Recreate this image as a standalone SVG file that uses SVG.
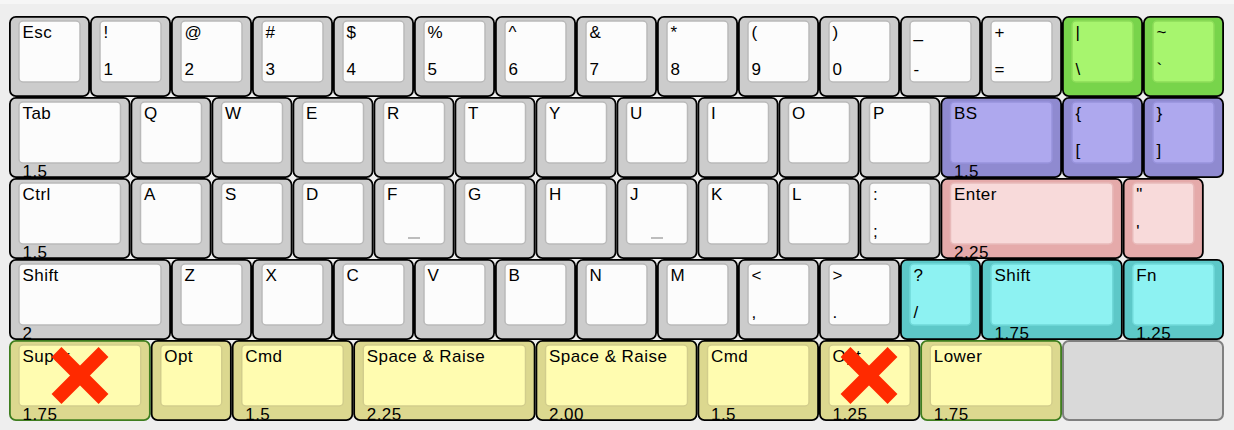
<svg xmlns="http://www.w3.org/2000/svg" width="1234" height="430" viewBox="0 0 1234 430">
<style>
.o{stroke:#000;stroke-width:1.8}
.i{stroke-width:1.5}
.d .o{fill:#cccccc}.d .i{fill:#fcfcfc;stroke:#b9b9b9}
.g .o{fill:#78d44b}.g .i{fill:#a7f56e;stroke:#8ddc5a}
.p .o{fill:#8f8ad0}.p .i{fill:#aea8ee;stroke:#9893dc}
.k .o{fill:#e5aaaa}.k .i{fill:#f8dada;stroke:#e8baba}
.c .o{fill:#5dc8c8}.c .i{fill:#8df2f2;stroke:#70d9d9}
.y .o{fill:#dcd88f}.y .i{fill:#fffcb0;stroke:#d2cd8c}
.gb .o{stroke:#3e7d1f}
text{font-family:"Liberation Sans",Arial,Helvetica,sans-serif;font-size:17px;letter-spacing:0.45px;fill:#000}
.nub{stroke:#a8a8a8;stroke-width:1.5}
.x{stroke:#ff2a00;stroke-width:14}
</style>
<rect x="0" y="0" width="1234" height="430" fill="#eeeeee"/>
<rect x="0" y="0" width="1234" height="4" fill="#f6f6f6"/>
<g id="connectors"/>

<!-- Row 0 -->
<g id="k-esc" class="d" transform="translate(9,16)"><rect class="o" x="0.9" y="0.9" width="79.2" height="79.2" rx="6"/><rect class="i" x="10" y="5" width="61" height="61" rx="4"/><text x="13.5" y="22">Esc</text></g>
<g id="k-1" class="d" transform="translate(90,16)"><rect class="o" x="0.9" y="0.9" width="79.2" height="79.2" rx="6"/><rect class="i" x="10" y="5" width="61" height="61" rx="4"/><text x="13.5" y="22">!</text><text x="13.5" y="59">1</text></g>
<g id="k-2" class="d" transform="translate(171,16)"><rect class="o" x="0.9" y="0.9" width="79.2" height="79.2" rx="6"/><rect class="i" x="10" y="5" width="61" height="61" rx="4"/><text x="13.5" y="22">@</text><text x="13.5" y="59">2</text></g>
<g id="k-3" class="d" transform="translate(252,16)"><rect class="o" x="0.9" y="0.9" width="79.2" height="79.2" rx="6"/><rect class="i" x="10" y="5" width="61" height="61" rx="4"/><text x="13.5" y="22">#</text><text x="13.5" y="59">3</text></g>
<g id="k-4" class="d" transform="translate(333,16)"><rect class="o" x="0.9" y="0.9" width="79.2" height="79.2" rx="6"/><rect class="i" x="10" y="5" width="61" height="61" rx="4"/><text x="13.5" y="22">$</text><text x="13.5" y="59">4</text></g>
<g id="k-5" class="d" transform="translate(414,16)"><rect class="o" x="0.9" y="0.9" width="79.2" height="79.2" rx="6"/><rect class="i" x="10" y="5" width="61" height="61" rx="4"/><text x="13.5" y="22">%</text><text x="13.5" y="59">5</text></g>
<g id="k-6" class="d" transform="translate(495,16)"><rect class="o" x="0.9" y="0.9" width="79.2" height="79.2" rx="6"/><rect class="i" x="10" y="5" width="61" height="61" rx="4"/><text x="13.5" y="22">^</text><text x="13.5" y="59">6</text></g>
<g id="k-7" class="d" transform="translate(576,16)"><rect class="o" x="0.9" y="0.9" width="79.2" height="79.2" rx="6"/><rect class="i" x="10" y="5" width="61" height="61" rx="4"/><text x="13.5" y="22">&amp;</text><text x="13.5" y="59">7</text></g>
<g id="k-8" class="d" transform="translate(657,16)"><rect class="o" x="0.9" y="0.9" width="79.2" height="79.2" rx="6"/><rect class="i" x="10" y="5" width="61" height="61" rx="4"/><text x="13.5" y="22">*</text><text x="13.5" y="59">8</text></g>
<g id="k-9" class="d" transform="translate(738,16)"><rect class="o" x="0.9" y="0.9" width="79.2" height="79.2" rx="6"/><rect class="i" x="10" y="5" width="61" height="61" rx="4"/><text x="13.5" y="22">(</text><text x="13.5" y="59">9</text></g>
<g id="k-0" class="d" transform="translate(819,16)"><rect class="o" x="0.9" y="0.9" width="79.2" height="79.2" rx="6"/><rect class="i" x="10" y="5" width="61" height="61" rx="4"/><text x="13.5" y="22">)</text><text x="13.5" y="59">0</text></g>
<g id="k-minus" class="d" transform="translate(900,16)"><rect class="o" x="0.9" y="0.9" width="79.2" height="79.2" rx="6"/><rect class="i" x="10" y="5" width="61" height="61" rx="4"/><text x="13.5" y="22">_</text><text x="13.5" y="59">-</text></g>
<g id="k-equal" class="d" transform="translate(981,16)"><rect class="o" x="0.9" y="0.9" width="79.2" height="79.2" rx="6"/><rect class="i" x="10" y="5" width="61" height="61" rx="4"/><text x="13.5" y="22">+</text><text x="13.5" y="59">=</text></g>
<g id="k-backslash" class="g" transform="translate(1062,16)"><rect class="o" x="0.9" y="0.9" width="79.2" height="79.2" rx="6"/><rect class="i" x="10" y="5" width="61" height="61" rx="4"/><text x="13.5" y="22">|</text><text x="13.5" y="59">\</text></g>
<g id="k-grave" class="g" transform="translate(1143,16)"><rect class="o" x="0.9" y="0.9" width="79.2" height="79.2" rx="6"/><rect class="i" x="10" y="5" width="61" height="61" rx="4"/><text x="13.5" y="22">~</text><text x="13.5" y="59">`</text></g>

<!-- Row 1 -->
<g id="k-tab" class="d" transform="translate(9,97)"><rect class="o" x="0.9" y="0.9" width="119.7" height="79.2" rx="6"/><rect class="i" x="10" y="5" width="101.5" height="61" rx="4"/><text x="13.5" y="22">Tab</text><text x="13.5" y="79.5">1.5</text></g>
<g id="k-q" class="d" transform="translate(130.5,97)"><rect class="o" x="0.9" y="0.9" width="79.2" height="79.2" rx="6"/><rect class="i" x="10" y="5" width="61" height="61" rx="4"/><text x="13.5" y="22">Q</text></g>
<g id="k-w" class="d" transform="translate(211.5,97)"><rect class="o" x="0.9" y="0.9" width="79.2" height="79.2" rx="6"/><rect class="i" x="10" y="5" width="61" height="61" rx="4"/><text x="13.5" y="22">W</text></g>
<g id="k-e" class="d" transform="translate(292.5,97)"><rect class="o" x="0.9" y="0.9" width="79.2" height="79.2" rx="6"/><rect class="i" x="10" y="5" width="61" height="61" rx="4"/><text x="13.5" y="22">E</text></g>
<g id="k-r" class="d" transform="translate(373.5,97)"><rect class="o" x="0.9" y="0.9" width="79.2" height="79.2" rx="6"/><rect class="i" x="10" y="5" width="61" height="61" rx="4"/><text x="13.5" y="22">R</text></g>
<g id="k-t" class="d" transform="translate(454.5,97)"><rect class="o" x="0.9" y="0.9" width="79.2" height="79.2" rx="6"/><rect class="i" x="10" y="5" width="61" height="61" rx="4"/><text x="13.5" y="22">T</text></g>
<g id="k-y" class="d" transform="translate(535.5,97)"><rect class="o" x="0.9" y="0.9" width="79.2" height="79.2" rx="6"/><rect class="i" x="10" y="5" width="61" height="61" rx="4"/><text x="13.5" y="22">Y</text></g>
<g id="k-u" class="d" transform="translate(616.5,97)"><rect class="o" x="0.9" y="0.9" width="79.2" height="79.2" rx="6"/><rect class="i" x="10" y="5" width="61" height="61" rx="4"/><text x="13.5" y="22">U</text></g>
<g id="k-i" class="d" transform="translate(697.5,97)"><rect class="o" x="0.9" y="0.9" width="79.2" height="79.2" rx="6"/><rect class="i" x="10" y="5" width="61" height="61" rx="4"/><text x="13.5" y="22">I</text></g>
<g id="k-o" class="d" transform="translate(778.5,97)"><rect class="o" x="0.9" y="0.9" width="79.2" height="79.2" rx="6"/><rect class="i" x="10" y="5" width="61" height="61" rx="4"/><text x="13.5" y="22">O</text></g>
<g id="k-p" class="d" transform="translate(859.5,97)"><rect class="o" x="0.9" y="0.9" width="79.2" height="79.2" rx="6"/><rect class="i" x="10" y="5" width="61" height="61" rx="4"/><text x="13.5" y="22">P</text></g>
<g id="k-bs" class="p" transform="translate(940.5,97)"><rect class="o" x="0.9" y="0.9" width="119.7" height="79.2" rx="6"/><rect class="i" x="10" y="5" width="101.5" height="61" rx="4"/><text x="13.5" y="22">BS</text><text x="13.5" y="79.5">1.5</text></g>
<g id="k-lbracket" class="p" transform="translate(1062,97)"><rect class="o" x="0.9" y="0.9" width="79.2" height="79.2" rx="6"/><rect class="i" x="10" y="5" width="61" height="61" rx="4"/><text x="13.5" y="22">{</text><text x="13.5" y="59">[</text></g>
<g id="k-rbracket" class="p" transform="translate(1143,97)"><rect class="o" x="0.9" y="0.9" width="79.2" height="79.2" rx="6"/><rect class="i" x="10" y="5" width="61" height="61" rx="4"/><text x="13.5" y="22">}</text><text x="13.5" y="59">]</text></g>

<!-- Row 2 -->
<g id="k-ctrl" class="d" transform="translate(9,178)"><rect class="o" x="0.9" y="0.9" width="119.7" height="79.2" rx="6"/><rect class="i" x="10" y="5" width="101.5" height="61" rx="4"/><text x="13.5" y="22">Ctrl</text><text x="13.5" y="79.5">1.5</text></g>
<g id="k-a" class="d" transform="translate(130.5,178)"><rect class="o" x="0.9" y="0.9" width="79.2" height="79.2" rx="6"/><rect class="i" x="10" y="5" width="61" height="61" rx="4"/><text x="13.5" y="22">A</text></g>
<g id="k-s" class="d" transform="translate(211.5,178)"><rect class="o" x="0.9" y="0.9" width="79.2" height="79.2" rx="6"/><rect class="i" x="10" y="5" width="61" height="61" rx="4"/><text x="13.5" y="22">S</text></g>
<g id="k-d" class="d" transform="translate(292.5,178)"><rect class="o" x="0.9" y="0.9" width="79.2" height="79.2" rx="6"/><rect class="i" x="10" y="5" width="61" height="61" rx="4"/><text x="13.5" y="22">D</text></g>
<g id="k-f" class="d" transform="translate(373.5,178)"><rect class="o" x="0.9" y="0.9" width="79.2" height="79.2" rx="6"/><rect class="i" x="10" y="5" width="61" height="61" rx="4"/><text x="13.5" y="22">F</text><line class="nub" x1="34.5" y1="60" x2="46.5" y2="60"/></g>
<g id="k-g" class="d" transform="translate(454.5,178)"><rect class="o" x="0.9" y="0.9" width="79.2" height="79.2" rx="6"/><rect class="i" x="10" y="5" width="61" height="61" rx="4"/><text x="13.5" y="22">G</text></g>
<g id="k-h" class="d" transform="translate(535.5,178)"><rect class="o" x="0.9" y="0.9" width="79.2" height="79.2" rx="6"/><rect class="i" x="10" y="5" width="61" height="61" rx="4"/><text x="13.5" y="22">H</text></g>
<g id="k-j" class="d" transform="translate(616.5,178)"><rect class="o" x="0.9" y="0.9" width="79.2" height="79.2" rx="6"/><rect class="i" x="10" y="5" width="61" height="61" rx="4"/><text x="13.5" y="22">J</text><line class="nub" x1="34.5" y1="60" x2="46.5" y2="60"/></g>
<g id="k-k" class="d" transform="translate(697.5,178)"><rect class="o" x="0.9" y="0.9" width="79.2" height="79.2" rx="6"/><rect class="i" x="10" y="5" width="61" height="61" rx="4"/><text x="13.5" y="22">K</text></g>
<g id="k-l" class="d" transform="translate(778.5,178)"><rect class="o" x="0.9" y="0.9" width="79.2" height="79.2" rx="6"/><rect class="i" x="10" y="5" width="61" height="61" rx="4"/><text x="13.5" y="22">L</text></g>
<g id="k-semicolon" class="d" transform="translate(859.5,178)"><rect class="o" x="0.9" y="0.9" width="79.2" height="79.2" rx="6"/><rect class="i" x="10" y="5" width="61" height="61" rx="4"/><text x="13.5" y="22">:</text><text x="13.5" y="59">;</text></g>
<g id="k-enter" class="k" transform="translate(940.5,178)"><rect class="o" x="0.9" y="0.9" width="180.45" height="79.2" rx="6"/><rect class="i" x="10" y="5" width="162.25" height="61" rx="4"/><text x="13.5" y="22">Enter</text><text x="13.5" y="79.5">2.25</text></g>
<g id="k-quote" class="k" transform="translate(1122.75,178)"><rect class="o" x="0.9" y="0.9" width="79.2" height="79.2" rx="6"/><rect class="i" x="10" y="5" width="61" height="61" rx="4"/><text x="13.5" y="22">"</text><text x="13.5" y="59">'</text></g>

<!-- Row 3 -->
<g id="k-lshift" class="d" transform="translate(9,259)"><rect class="o" x="0.9" y="0.9" width="160.2" height="79.2" rx="6"/><rect class="i" x="10" y="5" width="142" height="61" rx="4"/><text x="13.5" y="22">Shift</text><text x="13.5" y="79.5">2</text></g>
<g id="k-z" class="d" transform="translate(171,259)"><rect class="o" x="0.9" y="0.9" width="79.2" height="79.2" rx="6"/><rect class="i" x="10" y="5" width="61" height="61" rx="4"/><text x="13.5" y="22">Z</text></g>
<g id="k-x" class="d" transform="translate(252,259)"><rect class="o" x="0.9" y="0.9" width="79.2" height="79.2" rx="6"/><rect class="i" x="10" y="5" width="61" height="61" rx="4"/><text x="13.5" y="22">X</text></g>
<g id="k-c" class="d" transform="translate(333,259)"><rect class="o" x="0.9" y="0.9" width="79.2" height="79.2" rx="6"/><rect class="i" x="10" y="5" width="61" height="61" rx="4"/><text x="13.5" y="22">C</text></g>
<g id="k-v" class="d" transform="translate(414,259)"><rect class="o" x="0.9" y="0.9" width="79.2" height="79.2" rx="6"/><rect class="i" x="10" y="5" width="61" height="61" rx="4"/><text x="13.5" y="22">V</text></g>
<g id="k-b" class="d" transform="translate(495,259)"><rect class="o" x="0.9" y="0.9" width="79.2" height="79.2" rx="6"/><rect class="i" x="10" y="5" width="61" height="61" rx="4"/><text x="13.5" y="22">B</text></g>
<g id="k-n" class="d" transform="translate(576,259)"><rect class="o" x="0.9" y="0.9" width="79.2" height="79.2" rx="6"/><rect class="i" x="10" y="5" width="61" height="61" rx="4"/><text x="13.5" y="22">N</text></g>
<g id="k-m" class="d" transform="translate(657,259)"><rect class="o" x="0.9" y="0.9" width="79.2" height="79.2" rx="6"/><rect class="i" x="10" y="5" width="61" height="61" rx="4"/><text x="13.5" y="22">M</text></g>
<g id="k-comma" class="d" transform="translate(738,259)"><rect class="o" x="0.9" y="0.9" width="79.2" height="79.2" rx="6"/><rect class="i" x="10" y="5" width="61" height="61" rx="4"/><text x="13.5" y="22">&lt;</text><text x="13.5" y="59">,</text></g>
<g id="k-period" class="d" transform="translate(819,259)"><rect class="o" x="0.9" y="0.9" width="79.2" height="79.2" rx="6"/><rect class="i" x="10" y="5" width="61" height="61" rx="4"/><text x="13.5" y="22">&gt;</text><text x="13.5" y="59">.</text></g>
<g id="k-slash" class="c" transform="translate(900,259)"><rect class="o" x="0.9" y="0.9" width="79.2" height="79.2" rx="6"/><rect class="i" x="10" y="5" width="61" height="61" rx="4"/><text x="13.5" y="22">?</text><text x="13.5" y="59">/</text></g>
<g id="k-rshift" class="c" transform="translate(981,259)"><rect class="o" x="0.9" y="0.9" width="139.95" height="79.2" rx="6"/><rect class="i" x="10" y="5" width="121.75" height="61" rx="4"/><text x="13.5" y="22">Shift</text><text x="13.5" y="79.5">1.75</text></g>
<g id="k-fn" class="c" transform="translate(1122.75,259)"><rect class="o" x="0.9" y="0.9" width="99.45" height="79.2" rx="6"/><rect class="i" x="10" y="5" width="81.25" height="61" rx="4"/><text x="13.5" y="22">Fn</text><text x="13.5" y="79.5">1.25</text></g>

<!-- Row 4 -->
<g id="k-super" class="y gb" transform="translate(9,340)"><rect class="o" x="0.9" y="0.9" width="139.95" height="79.2" rx="6"/><rect class="i" x="10" y="5" width="121.75" height="61" rx="4"/><text x="13.5" y="22">Super</text><text x="13.5" y="79.5">1.75</text><line class="x" x1="47.5" y1="12" x2="94.5" y2="59"/><line class="x" x1="94.5" y1="12" x2="47.5" y2="59"/></g>
<g id="k-lopt" class="y" transform="translate(150.75,340)"><rect class="o" x="0.9" y="0.9" width="79.2" height="79.2" rx="6"/><rect class="i" x="10" y="5" width="61" height="61" rx="4"/><text x="13.5" y="22">Opt</text></g>
<g id="k-lcmd" class="y" transform="translate(231.75,340)"><rect class="o" x="0.9" y="0.9" width="119.7" height="79.2" rx="6"/><rect class="i" x="10" y="5" width="101.5" height="61" rx="4"/><text x="13.5" y="22">Cmd</text><text x="13.5" y="79.5">1.5</text></g>
<g id="k-space1" class="y" transform="translate(353.25,340)"><rect class="o" x="0.9" y="0.9" width="180.45" height="79.2" rx="6"/><rect class="i" x="10" y="5" width="162.25" height="61" rx="4"/><text x="13.5" y="22">Space &amp; Raise</text><text x="13.5" y="79.5">2.25</text></g>
<g id="k-space2" class="y" transform="translate(535.5,340)"><rect class="o" x="0.9" y="0.9" width="160.2" height="79.2" rx="6"/><rect class="i" x="10" y="5" width="142" height="61" rx="4"/><text x="13.5" y="22">Space &amp; Raise</text><text x="13.5" y="79.5">2.00</text></g>
<g id="k-rcmd" class="y" transform="translate(697.5,340)"><rect class="o" x="0.9" y="0.9" width="119.7" height="79.2" rx="6"/><rect class="i" x="10" y="5" width="101.5" height="61" rx="4"/><text x="13.5" y="22">Cmd</text><text x="13.5" y="79.5">1.5</text></g>
<g id="k-ropt" class="y" transform="translate(819,340)"><rect class="o" x="0.9" y="0.9" width="99.45" height="79.2" rx="6"/><rect class="i" x="10" y="5" width="81.25" height="61" rx="4"/><text x="13.5" y="22">Opt</text><text x="13.5" y="79.5">1.25</text><line class="x" x1="26.5" y1="12" x2="73.5" y2="59"/><line class="x" x1="73.5" y1="12" x2="26.5" y2="59"/></g>
<g id="k-lower" class="y gb" transform="translate(920.25,340)"><rect class="o" x="0.9" y="0.9" width="139.95" height="79.2" rx="6"/><rect class="i" x="10" y="5" width="121.75" height="61" rx="4"/><text x="13.5" y="22">Lower</text><text x="13.5" y="79.5">1.75</text></g>
<g id="k-blank" transform="translate(1062,340)"><rect x="1" y="1" width="160" height="79" rx="6" fill="#d9d9d9" stroke="#808080" stroke-width="2"/></g>
</svg>
